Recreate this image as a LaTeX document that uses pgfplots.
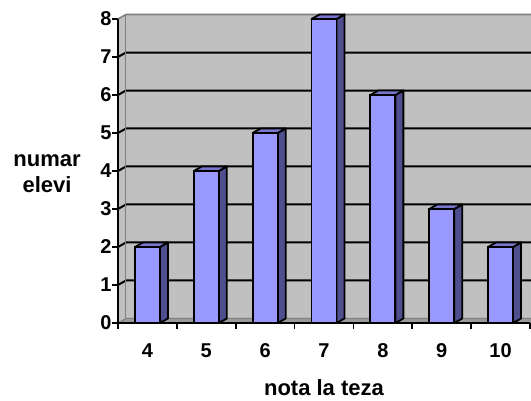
\documentclass[border=0pt]{standalone}
\usepackage{fontspec}
\setmainfont{Liberation Sans}
\usepackage{pgfplots}
\usepackage{pgfplotstable}
\pgfplotsset{compat=1.18}
\definecolor{barfront}{HTML}{9999FF}
\definecolor{barside}{HTML}{4F4F8F}
\definecolor{bartop}{HTML}{7777CC}
\definecolor{wall}{HTML}{C0C0C0}
\definecolor{walledge}{HTML}{808080}
\definecolor{floorc}{HTML}{9A9A9A}

\pgfplotstableread{
x y
1 2
2 4
3 5
4 8
5 6
6 3
7 2
}\data

\begin{document}
\begin{tikzpicture}
\useasboundingbox (0,0) rectangle (531pt,401pt);
\begin{axis}[
  at={(118pt,78pt)}, anchor=south west,
  scale only axis, width=412pt, height=304pt,
  xmin=0.5, xmax=7.5, ymin=0, ymax=8,
  clip=false, axis on top,
  axis x line*=bottom, axis y line*=left,
  axis line style={line width=1.8pt, black},
  xtick={0.5,1.5,...,7.5}, xticklabels={},
  extra x ticks={1,2,3,4,5,6,7},
  extra x tick labels={4,5,6,7,8,9,10},
  extra x tick style={major tick length=0pt},
  ytick={0,1,...,8},
  tick align=outside, major tick length=6pt,
  tick style={line width=1.8pt, black},
  /pgf/number format/assume math mode=true,
  ticklabel style={font=\fontsize{20}{20}\selectfont\bfseries},
  xticklabel style={yshift=-17pt},
  yticklabel style={xshift=3pt},
  xlabel={nota la teza},
  ylabel={numar\\elevi},
  every axis x label/.style={at={(rel axis cs:0.5,0)}, anchor=base, yshift=-73pt, font=\fontsize{22}{26}\selectfont\bfseries},
  every axis y label/.style={at={(rel axis cs:0,0.5)}, anchor=center, xshift=-71pt, yshift=-3pt, align=center, font=\fontsize{22}{26}\selectfont\bfseries},
]
% walls and floor
\fill[wall] ([xshift=8pt,yshift=4.5pt]axis cs:0.5,0) rectangle ([xshift=8pt,yshift=4.5pt]axis cs:7.5,8);
\fill[wall] (axis cs:0.5,0) -- ++(8pt,4.5pt) -- ([xshift=8pt,yshift=4.5pt]axis cs:0.5,8) -- (axis cs:0.5,8) -- cycle;
\filldraw[fill=floorc, draw=walledge, line width=1pt] (axis cs:0.5,0) -- (axis cs:7.5,0) -- ([xshift=8pt,yshift=4.5pt]axis cs:7.5,0) -- ([xshift=8pt,yshift=4.5pt]axis cs:0.5,0) -- cycle;
\pgfplotsinvokeforeach{1,...,7}{
  \draw[black, line width=2pt] (axis cs:0.5,#1) -- ([xshift=8pt,yshift=4.5pt]axis cs:0.5,#1) -- ([xshift=8pt,yshift=4.5pt]axis cs:7.5,#1);
}
\draw[walledge, line width=1.6pt] (axis cs:0.5,8) -- ([xshift=8pt,yshift=4.5pt]axis cs:0.5,8) -- ([xshift=8pt,yshift=4.5pt]axis cs:7.5,8);
\draw[walledge, line width=1pt] ([xshift=8pt,yshift=4.5pt]axis cs:0.5,0) -- ([xshift=8pt,yshift=4.5pt]axis cs:0.5,8);
% bar sides and tops
\pgfplotsinvokeforeach{0,...,6}{
  \pgfplotstablegetelem{#1}{x}\of\data \let\cx\pgfplotsretval
  \pgfplotstablegetelem{#1}{y}\of\data \let\cy\pgfplotsretval
  \pgfmathsetmacro\xl{\cx-0.2125}
  \pgfmathsetmacro\xr{\cx+0.2125}
  \pgfmathsetmacro\xlb{\cx-0.2125+0.136}
  \pgfmathsetmacro\xrb{\cx+0.2125+0.136}
  \pgfmathsetmacro\yb{\cy+0.118}
  \edef\temp{%
    \noexpand\addplot[fill=barside,draw=black,line width=1.8pt,line join=round] coordinates {(\xr,0) (\xrb,0.118) (\xrb,\yb) (\xr,\cy)} -- cycle;
    \noexpand\addplot[fill=bartop,draw=black,line width=1.8pt,line join=round] coordinates {(\xl,\cy) (\xlb,\yb) (\xrb,\yb) (\xr,\cy)} -- cycle;
  }%
  \temp
}
% front faces
\addplot[ybar, bar width=0.425, fill=barfront, draw=black, line width=1.8pt] table[x=x,y=y]{\data};
\end{axis}
\end{tikzpicture}
\end{document}
